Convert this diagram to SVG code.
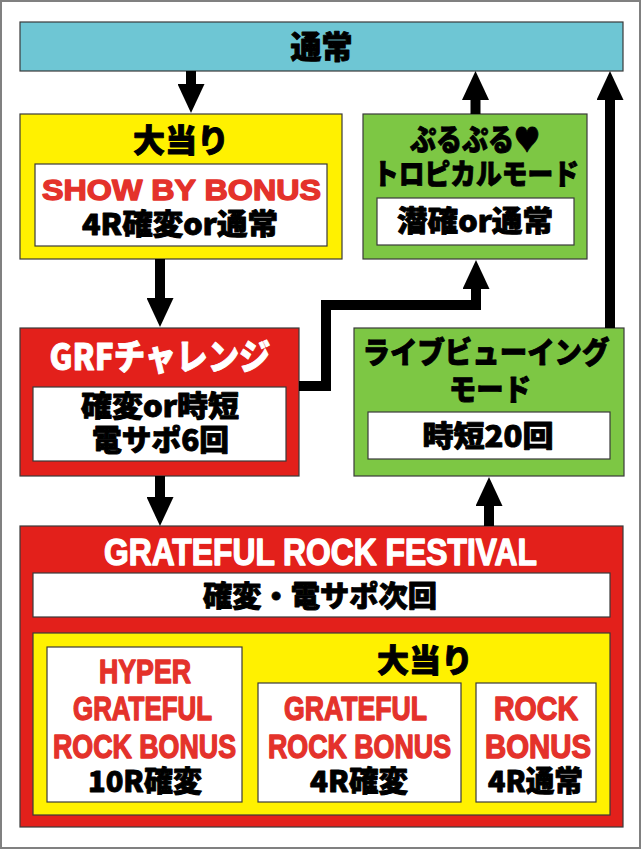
<svg xmlns="http://www.w3.org/2000/svg" width="642" height="850" viewBox="0 0 642 850">
<style>
.bx{stroke:#3a3a3a;stroke-width:1.2}
.teal{fill:#6EC6D4}
.yel{fill:#FFF100}
.grn{fill:#7DC744}
.red{fill:#E3201B}
.wht{fill:#FFFFFF}
.jp{font-family:"Noto Sans CJK JP","Noto Sans",sans-serif;font-weight:900;fill:#000;stroke:#000;stroke-width:0.9;stroke-linejoin:round;text-anchor:middle}
.jpw{font-family:"Noto Sans CJK JP","Noto Sans",sans-serif;font-weight:900;fill:#FFF;stroke:#FFF;stroke-width:0.9;stroke-linejoin:round;text-anchor:middle}
.en{font-family:"Liberation Sans",Arial,sans-serif;font-weight:bold;fill:#E4322B;stroke:#E4322B;stroke-width:1.4;stroke-linejoin:round;text-anchor:middle}
.enw{font-family:"Liberation Sans",Arial,sans-serif;font-weight:bold;fill:#FFF;stroke:#FFF;stroke-width:1.4;stroke-linejoin:round;text-anchor:middle}
.ln{fill:none;stroke:#000;stroke-width:10}
</style>
<defs>
<marker id="ah" viewBox="0 0 29 27" refX="0" refY="13.5" markerWidth="29" markerHeight="27" markerUnits="userSpaceOnUse" orient="auto">
<path d="M0,0 L29,13.5 L0,27 z" fill="#000"/>
</marker>
</defs>
<rect x="1" y="1" width="639" height="847" fill="#FFF" stroke="#808080" stroke-width="2"/>

<g id="node-tsujo">
<rect class="bx teal" x="20" y="22" width="603" height="49"/>
<text class="jp" x="321.5" y="58" font-size="31">通常</text>
</g>

<g id="node-oatari">
<rect class="bx yel" x="20" y="114" width="322" height="145"/>
<text class="jp" x="181" y="152" font-size="32">大当り</text>
<rect class="bx wht" x="35" y="164" width="292" height="82"/>
<text class="en" x="181.5" y="200" font-size="30" textLength="279" lengthAdjust="spacingAndGlyphs">SHOW BY BONUS</text>
<text class="jp" x="180" y="235" font-size="29" textLength="196" lengthAdjust="spacingAndGlyphs">4R確変or通常</text>
</g>

<g id="node-puru">
<rect class="bx grn" x="363" y="114" width="224" height="145"/>
<text class="jp" x="475" y="150" font-size="30" textLength="130" lengthAdjust="spacingAndGlyphs">ぷるぷる♥</text>
<text class="jp" x="476" y="185" font-size="29" textLength="206" lengthAdjust="spacingAndGlyphs">トロピカルモード</text>
<rect class="bx wht" x="377" y="198" width="197" height="47"/>
<text class="jp" x="475" y="232" font-size="29" textLength="156" lengthAdjust="spacingAndGlyphs">潜確or通常</text>
</g>

<g id="node-grf">
<rect class="bx red" x="20" y="328" width="279" height="148"/>
<text class="jpw" x="160" y="370" font-size="36" textLength="221" lengthAdjust="spacingAndGlyphs">GRFチャレンジ</text>
<rect class="bx wht" x="33" y="387" width="253" height="74"/>
<text class="jp" x="160" y="417" font-size="29" textLength="158" lengthAdjust="spacingAndGlyphs">確変or時短</text>
<text class="jp" x="160.5" y="451" font-size="29" textLength="137" lengthAdjust="spacingAndGlyphs">電サポ6回</text>
</g>

<g id="node-live">
<rect class="bx grn" x="354" y="328" width="270" height="148"/>
<text class="jp" x="486" y="363" font-size="30" textLength="247" lengthAdjust="spacingAndGlyphs">ライブビューイング</text>
<text class="jp" x="490" y="400" font-size="30" textLength="82" lengthAdjust="spacingAndGlyphs">モード</text>
<rect class="bx wht" x="368" y="412" width="242" height="47"/>
<text class="jp" x="488" y="447" font-size="29" textLength="131" lengthAdjust="spacingAndGlyphs">時短20回</text>
</g>

<g id="node-festival">
<rect class="bx red" x="20" y="526" width="603" height="301"/>
<text class="enw" x="320.5" y="565" font-size="37" textLength="433" lengthAdjust="spacingAndGlyphs">GRATEFUL ROCK FESTIVAL</text>
<rect class="bx wht" x="33" y="573" width="577" height="44"/>
<text class="jp" x="320" y="607" font-size="29" textLength="234" lengthAdjust="spacingAndGlyphs">確変・電サポ次回</text>
<rect class="bx yel" x="33" y="633" width="577" height="182"/>
<text class="jp" x="425" y="672" font-size="32" textLength="96" lengthAdjust="spacingAndGlyphs">大当り</text>
<g id="node-hyper">
<rect class="bx wht" x="47" y="647" width="195" height="155"/>
<text class="en" x="145" y="683" font-size="33" textLength="92" lengthAdjust="spacingAndGlyphs">HYPER</text>
<text class="en" x="142.5" y="720" font-size="33" textLength="139" lengthAdjust="spacingAndGlyphs">GRATEFUL</text>
<text class="en" x="144.5" y="758" font-size="33" textLength="183" lengthAdjust="spacingAndGlyphs">ROCK BONUS</text>
<text class="jp" x="145" y="792" font-size="29" textLength="114" lengthAdjust="spacingAndGlyphs">10R確変</text>
</g>
<g id="node-grb">
<rect class="bx wht" x="258" y="683" width="203" height="119"/>
<text class="en" x="355.5" y="720" font-size="33" textLength="143" lengthAdjust="spacingAndGlyphs">GRATEFUL</text>
<text class="en" x="359.5" y="758" font-size="33" textLength="183" lengthAdjust="spacingAndGlyphs">ROCK BONUS</text>
<text class="jp" x="359" y="792" font-size="29" textLength="98" lengthAdjust="spacingAndGlyphs">4R確変</text>
</g>
<g id="node-rb">
<rect class="bx wht" x="476" y="683" width="120" height="119"/>
<text class="en" x="536" y="720" font-size="33" textLength="84" lengthAdjust="spacingAndGlyphs">ROCK</text>
<text class="en" x="538" y="758" font-size="33" textLength="106" lengthAdjust="spacingAndGlyphs">BONUS</text>
<text class="jp" x="535.5" y="792" font-size="29" textLength="95" lengthAdjust="spacingAndGlyphs">4R通常</text>
</g>
</g>

<g id="connectors">
<path class="ln" d="M191,71 V84" marker-end="url(#ah)"/>
<path class="ln" d="M475.5,114 V100" marker-end="url(#ah)"/>
<path class="ln" d="M610,328 V100" marker-end="url(#ah)"/>
<path class="ln" d="M160,259 V298" marker-end="url(#ah)"/>
<path class="ln" d="M299,386 H326 V305 H476 V289" marker-end="url(#ah)"/>
<path class="ln" d="M160,476 V497" marker-end="url(#ah)"/>
<path class="ln" d="M489,526 V506" marker-end="url(#ah)"/>
</g>
</svg>
